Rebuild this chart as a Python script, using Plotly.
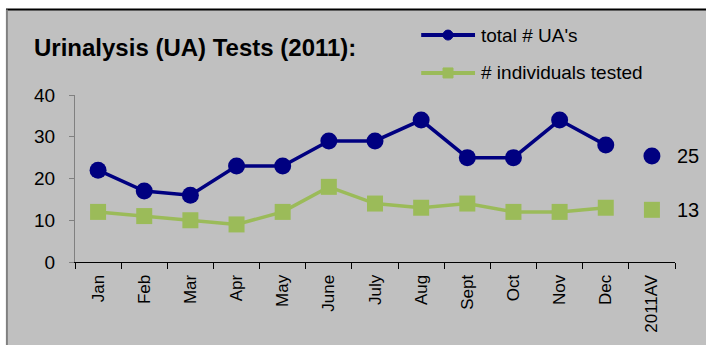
import plotly.graph_objects as go

months = ["Jan", "Feb", "Mar", "Apr", "May", "June", "July", "Aug",
          "Sept", "Oct", "Nov", "Dec"]
avg_label = "2011AV"
total_ua = [22, 17, 16, 23, 23, 29, 29, 34, 25, 25, 34, 28]
individuals = [12, 11, 10, 9, 12, 18, 14, 13, 14, 12, 12, 13]
avg_total_ua = 25.4
avg_individuals = 12.5
series_names = ["total # UA's", "# individuals tested"]

navy = "#000080"
green = "#9BBB59"
grey = "#C0C0C0"
font = "Liberation Sans, Arial, sans-serif"

categories = months + [avg_label]

fig = go.Figure()
fig.add_trace(go.Scatter(
    x=months, y=total_ua, name=series_names[0], mode="lines+markers",
    line=dict(color=navy, width=3.5),
    marker=dict(symbol="circle", size=17, color=navy),
))
fig.add_trace(go.Scatter(
    x=months, y=individuals, name=series_names[1], mode="lines+markers",
    line=dict(color=green, width=3.5),
    marker=dict(symbol="square", size=16, color=green),
))
# yearly averages, drawn as lone markers
fig.add_trace(go.Scatter(
    x=[avg_label], y=[avg_total_ua], mode="markers",
    marker=dict(symbol="circle", size=17, color=navy), cliponaxis=False,
))
fig.add_trace(go.Scatter(
    x=[avg_label], y=[avg_individuals], mode="markers",
    marker=dict(symbol="square", size=16, color=green), cliponaxis=False,
))


def half_up(v):
    return str(int(v + 0.5))


annotations = [
    dict(x=avg_label, y=v, xref="x", yref="y", text=half_up(v),
         showarrow=False, xanchor="left", yanchor="middle", xshift=23,
         font=dict(family=font, size=20, color="black"))
    for v in (avg_total_ua, avg_individuals)
]
annotations.append(dict(
    x=-0.072, y=1.287, xref="paper", yref="paper",
    text="<b>Urinalysis (UA) Tests (2011):</b>", showarrow=False,
    xanchor="left", yanchor="middle",
    font=dict(family=font, size=24, color="black"),
))

# outer frame: white page edge, black top rule, grey left rule
shapes = [
    dict(type="rect", xref="paper", yref="paper", x0=-0.2, x1=1.1,
         y0=1.515, y1=1.7, fillcolor="white", line_width=0, layer="below"),
    dict(type="rect", xref="paper", yref="paper", x0=-0.2, x1=-0.115,
         y0=-0.6, y1=1.7, fillcolor="white", line_width=0, layer="below"),
    dict(type="line", xref="paper", yref="paper", x0=-0.115, x1=1.1,
         y0=1.512, y1=1.512, line=dict(color="black", width=2)),
    dict(type="line", xref="paper", yref="paper", x0=-0.1135, x1=-0.1135,
         y0=-0.6, y1=1.512, line=dict(color="#808080", width=2)),
]

# key: a line with a marker in the middle, then the series name
key_rows = [(1.359, navy, "circle"), (1.132, green, "rect")]
for (ky, color, glyph), name in zip(key_rows, series_names):
    shapes.append(dict(type="line", xref="paper", yref="paper",
                       x0=0.577, x1=0.6667, y0=ky, y1=ky,
                       line=dict(color=color, width=4)))
    shapes.append(dict(type=glyph, xref="paper", yref="paper",
                       xsizemode="pixel", ysizemode="pixel",
                       xanchor=0.6217, yanchor=ky,
                       x0=-5, x1=5, y0=-5, y1=5,
                       fillcolor=color, line=dict(color=color, width=1)))
    annotations.append(dict(x=0.6733, y=ky, xref="paper", yref="paper",
                            text=name, showarrow=False, xanchor="left",
                            yanchor="middle",
                            font=dict(family=font, size=19, color="black")))

fig.update_layout(
    width=706, height=345,
    margin=dict(l=75, r=31, t=95, b=83),
    paper_bgcolor=grey, plot_bgcolor=grey,
    font=dict(family=font, size=16, color="black"),
    showlegend=False,
    annotations=annotations,
    shapes=shapes,
    xaxis=dict(type="category", categoryorder="array", categoryarray=categories,
               range=[-0.5, 12.5], tickangle=-90, showgrid=False,
               showline=True, linecolor="black", linewidth=1,
               ticks="outside", ticklen=6, tickcolor="black",
               tickson="boundaries", tickfont=dict(size=17),
               ticklabelstandoff=5),
    yaxis=dict(range=[0, 40], tickvals=[0, 10, 20, 30, 40], showgrid=False,
               showline=True, linecolor="#808080", linewidth=1,
               ticks="outside", ticklen=5, tickcolor="#808080",
               tickfont=dict(size=19), zeroline=False,
               ticklabelstandoff=10),
)

fig.write_html("out.html")
